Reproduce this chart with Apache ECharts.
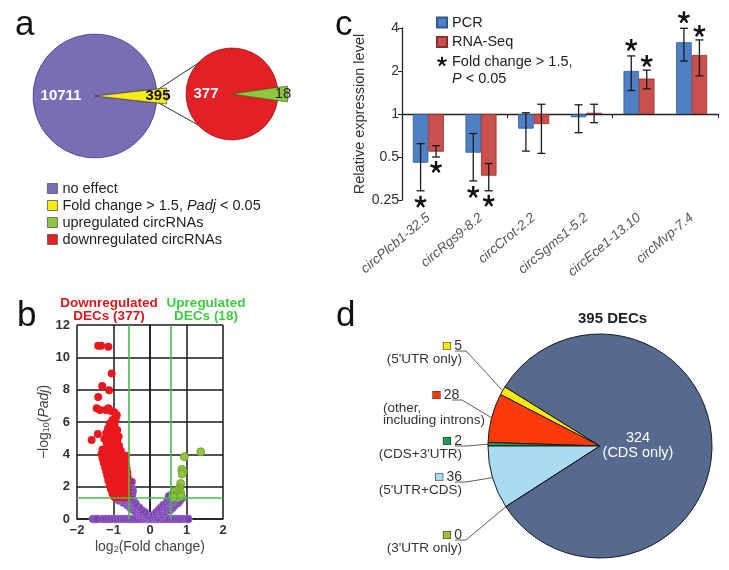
<!DOCTYPE html>
<html>
<head>
<meta charset="utf-8">
<script src="https://cdn.jsdelivr.net/npm/echarts@6/dist/echarts.min.js"></script>
<style>
  body { margin: 0; background: #fff; }
  #chart { width: 729px; height: 570px; }
</style>
</head>
<body>
<div id="chart"></div>
<script>
const FONT = "'Liberation Sans', Arial, Helvetica, sans-serif";

// ---- a: all circRNAs, then the DECs split up / down
const aNames = ['no effect', 'Fold change > 1.5, Padj < 0.05', 'upregulated circRNAs', 'downregulated circRNAs'];
const aColors = ['#7a6db6', '#f6ec12', '#8fc640', '#e41f26'];
const noEffect = 10711;
const decTotal = 395;
const decUp = 18;
const decDown = 377;

// ---- b: volcano points [log2 fold change, -log10 Padj]
const nsPoints = [
  [-1.56,0],[-1.5,0],[-1.44,0],[-1.3,0],[-1.22,0],[-1.14,0],[-1.06,0],[-0.98,0],[-0.9,0],[-0.82,0],
  [-0.74,0],[-0.66,0],[-0.58,0],[-0.5,0],[-0.42,0],[-0.34,0],[-0.26,0],[-0.18,0],[-0.1,0],[-0.03,0],
  [0.05,0],[0.13,0],[0.21,0],[0.29,0],[0.37,0],[0.45,0],[0.53,0],[0.61,0],[0.69,0],[0.77,0],
  [0.85,0],[0.93,0],[1.0,0],[1.05,0],
  [-0.2,0.1],[-0.12,0.08],[-0.05,0.12],[0.0,0.06],
  [-0.3,0.26],[-0.22,0.24],[-0.14,0.27],[-0.07,0.22],
  [-0.38,0.4],[-0.3,0.42],[-0.22,0.38],[-0.14,0.41],
  [-0.46,0.56],[-0.38,0.54],[-0.3,0.57],[-0.22,0.53],
  [-0.54,0.7],[-0.46,0.72],[-0.38,0.68],[-0.3,0.71],
  [-0.62,0.86],[-0.54,0.84],[-0.46,0.87],[-0.38,0.83],
  [-0.72,1.0],[-0.63,1.02],[-0.55,0.98],[-0.47,1.01],[-0.4,0.97],
  [-0.85,1.15],[-0.77,1.17],[-0.69,1.13],[-0.61,1.16],[-0.53,1.12],[-0.46,1.15],
  [-0.93,1.28],[-0.8,1.3],[-0.7,1.27],[-0.58,1.29],[-0.5,1.31],
  [-0.55,1.46],[-0.49,1.52],[-0.53,1.68],[-0.47,1.73],[-0.51,1.9],[-0.52,2.1],[-0.5,2.3],
  [0.05,0.08],[0.12,0.11],[0.2,0.07],
  [0.1,0.25],[0.18,0.23],[0.26,0.27],[0.33,0.24],
  [0.17,0.4],[0.25,0.42],[0.33,0.38],[0.41,0.41],
  [0.24,0.56],[0.32,0.54],[0.4,0.57],[0.48,0.53],[0.55,0.56],
  [0.3,0.7],[0.38,0.72],[0.46,0.68],[0.54,0.71],[0.62,0.69],
  [0.37,0.86],[0.45,0.84],[0.53,0.87],[0.61,0.83],[0.69,0.86],
  [0.45,1.0],[0.53,1.02],[0.61,0.98],[0.69,1.01],[0.77,0.99],
  [0.5,1.15],[0.58,1.17],[0.66,1.13],[0.74,1.16],[0.82,1.14],
  [0.55,1.28],[0.63,1.3],[0.71,1.27],[0.79,1.3],[0.87,1.28],
  [0.56,1.45],[0.52,1.4]
];
const downPoints = [
  [-1.42,10.72],[-1.34,10.72],[-1.14,10.66],[-1.05,9.0],[-1.31,8.22],[-1.12,7.96],[-1.42,7.54],
  [-1.46,6.85],[-1.37,6.74],[-1.21,6.74],[-1.14,6.85],[-1.07,6.68],[-0.98,6.6],[-0.91,6.43],
  [-1.03,6.12],[-0.94,6.2],[-1.43,5.26],[-1.6,4.89],
  [-1.1,5.9],[-0.97,5.85],[-1.15,5.6],[-1.03,5.55],[-0.9,5.5],[-1.2,5.3],[-1.08,5.25],[-0.95,5.2],
  [-0.86,5.1],[-1.25,4.95],[-1.12,4.9],[-1.0,4.92],[-0.9,4.85],[-1.18,4.65],[-1.05,4.6],[-0.94,4.62],[-0.85,4.55],
  [-1.3,4.3],[-1.2,4.32],[-1.1,4.28],[-1.0,4.3],[-0.9,4.25],[-0.8,4.22],
  [-1.33,4.02],[-1.24,4.05],[-1.14,4.0],[-1.05,4.03],[-0.95,3.98],[-0.86,4.0],[-0.77,3.95],[-0.66,3.92],
  [-1.3,3.75],[-1.2,3.78],[-1.11,3.72],[-1.02,3.76],[-0.93,3.7],[-0.84,3.74],[-0.75,3.68],[-0.68,3.66],
  [-1.27,3.48],[-1.18,3.5],[-1.09,3.45],[-1.0,3.5],[-0.91,3.44],[-0.82,3.48],[-0.74,3.42],[-0.66,3.4],
  [-1.23,3.2],[-1.14,3.24],[-1.05,3.18],[-0.97,3.22],[-0.88,3.16],[-0.8,3.2],[-0.72,3.14],[-0.64,3.12],
  [-1.2,2.94],[-1.11,2.96],[-1.03,2.9],[-0.95,2.95],[-0.86,2.88],[-0.78,2.92],[-0.7,2.86],[-0.62,2.84],
  [-1.17,2.66],[-1.08,2.68],[-1.0,2.62],[-0.92,2.67],[-0.84,2.6],[-0.76,2.64],[-0.68,2.58],[-0.61,2.56],
  [-1.14,2.38],[-1.06,2.4],[-0.98,2.34],[-0.9,2.39],[-0.82,2.32],[-0.74,2.36],[-0.67,2.3],[-0.6,2.28],
  [-1.1,2.1],[-1.02,2.12],[-0.94,2.06],[-0.86,2.1],[-0.78,2.04],[-0.71,2.08],[-0.64,2.02],
  [-1.07,1.84],[-0.99,1.86],[-0.91,1.8],[-0.83,1.84],[-0.76,1.78],[-0.69,1.82],[-0.62,1.76],
  [-1.03,1.58],[-0.95,1.6],[-0.87,1.55],[-0.8,1.58],[-0.73,1.52],[-0.66,1.56],[-0.61,1.5],
  [-0.98,1.38],[-0.9,1.36],[-0.82,1.4],[-0.75,1.35],[-0.68,1.38],[-0.62,1.34]
];
const upPoints = [
  [1.39,4.16],[0.94,3.85],[0.87,3.07],[0.91,2.93],[0.88,2.78],[0.84,2.2],[0.82,1.92],[0.8,1.79],
  [0.73,1.75],[0.66,1.69],[0.84,1.63],[0.78,1.5],[0.68,1.5],[0.62,1.42],[0.7,1.36],[0.76,1.33],
  [0.64,1.34],[0.86,1.4]
];
const fcCut = 0.585;   // log2(1.5)
const padjCut = 1.3;   // -log10(0.05)

// ---- c: qPCR vs RNA-seq, relative expression (log2 axis)
const genes = ['circPlcb1-32.5', 'circRgs9-8.2', 'circCrot-2.2', 'circSgms1-5.2', 'circEce1-13.10', 'circMvp-7.4'];
const pcrMean = [0.456, 0.536, 0.79, 0.95, 2.0, 3.18];
const pcrLow  = [0.29, 0.34, 0.55, 0.74, 1.46, 2.35];
const pcrHigh = [0.62, 0.73, 1.02, 1.16, 2.55, 3.98];
const seqMean = [0.545, 0.37, 0.85, 1.02, 1.77, 2.59];
const seqLow  = [0.50, 0.29, 0.53, 0.87, 1.5, 1.85];
const seqHigh = [0.60, 0.45, 1.17, 1.17, 2.03, 3.3];
const pcrSig = [1, 1, 0, 0, 1, 1];
const seqSig = [1, 1, 0, 0, 1, 1];
const levelTicks = [0.25, 0.5, 1, 2, 4];

// ---- d: where the 395 DECs sit
const regionNames = ["(5'UTR only)", '(other,\nincluding introns)', "(CDS+3'UTR)", "(5'UTR+CDS)", "(3'UTR only)", '(CDS only)'];
const regionCounts = [5, 28, 2, 36, 0, 324];
const regionColors = ['#fbe80c', '#fe3a0a', '#1f9a52', '#a9dbf3', '#a4bd36', '#566a8f'];

const starName = 'Fold change > 1.5, P < 0.05';
const starPath = 'path://M-1.91,-9.82 L1.91,-9.82 L2,-2.75 L8.75,-4.85 L9.93,-1.22 L3.23,1.05 L7.31,6.82 L4.23,9.06 L0,3.4 L-4.23,9.06 L-7.31,6.82 L-3.23,1.05 L-9.93,-1.22 L-8.75,-4.85 L-2,-2.75 Z';
const barW = 15.5;

function errorBars(shift) {
  return function (params, api) {
    const lo = api.coord([api.value(0), api.value(1)]);
    const hi = api.coord([api.value(0), api.value(2)]);
    const x = lo[0] + shift;
    const st = { stroke: '#1a1a1a', lineWidth: 1.3 };
    return {
      type: 'group',
      children: [
        { type: 'line', shape: { x1: x, y1: lo[1], x2: x, y2: hi[1] }, style: st },
        { type: 'line', shape: { x1: x - 4, y1: lo[1], x2: x + 4, y2: lo[1] }, style: st },
        { type: 'line', shape: { x1: x - 4, y1: hi[1], x2: x + 4, y2: hi[1] }, style: st }
      ]
    };
  };
}

function starData() {
  const out = [];
  genes.forEach(function (g, i) {
    if (pcrSig[i]) {
      const up = pcrMean[i] > 1;
      out.push({ value: [i, Math.log2(up ? pcrHigh[i] : pcrLow[i])], symbolOffset: [-barW / 2, up ? -11 : 11] });
    }
    if (seqSig[i]) {
      const up = seqMean[i] > 1;
      out.push({ value: [i, Math.log2(up ? seqHigh[i] : seqLow[i])], symbolOffset: [barW / 2, up ? -9 : 10] });
    }
  });
  return out;
}

const minus = v => (v < 0 ? '\u2212' + Math.abs(v) : String(v));
const allTotal = noEffect + decTotal;
const regionTotal = regionCounts.reduce((a, b) => a + b, 0);
const letter = { fontSize: 35, fontWeight: 'normal', color: '#111', fontFamily: FONT };

const chart = echarts.init(document.getElementById('chart'));
const option = {
  animation: false,
  backgroundColor: '#fff',
  textStyle: { fontFamily: FONT },
  title: [
    { text: 'a', left: 10, top: 3, textStyle: letter },
    { text: 'b', left: 12, top: 294, textStyle: letter },
    { text: 'c', left: 330, top: 3, textStyle: letter },
    { text: 'd', left: 331, top: 294, textStyle: letter },
    { text: 'Downregulated\nDECs (' + decDown + ')', left: 104, top: 292, textAlign: 'center',
      textStyle: { fontSize: 13.5, lineHeight: 13, fontWeight: 'bold', color: '#d9181c', fontFamily: FONT } },
    { text: 'Upregulated\nDECs (' + decUp + ')', left: 201, top: 292, textAlign: 'center',
      textStyle: { fontSize: 13.5, lineHeight: 13, fontWeight: 'bold', color: '#3fcb3f', fontFamily: FONT } },
    { text: regionTotal + ' DECs', left: 573, top: 306,
      textStyle: { fontSize: 15, fontWeight: 'bold', color: '#222', fontFamily: FONT } },
    { text: '{i|P} < 0.05', left: 452, top: 71, padding: 0,
      textStyle: { fontSize: 14.5, fontWeight: 'normal', color: '#222', fontFamily: FONT,
        rich: { i: { fontStyle: 'italic', fontSize: 14.5, color: '#222', fontFamily: FONT } } } }
  ],
  legend: [
    {
      data: aNames, orient: 'vertical', left: 47, top: 181, padding: 0, icon: 'rect',
      itemWidth: 10, itemHeight: 10, itemGap: 2, selectedMode: false,
      itemStyle: { borderColor: '#555', borderWidth: 0.8 },
      formatter: n => n.replace('Padj', '{i|Padj}'),
      textStyle: { fontSize: 14.5, color: '#222', fontFamily: FONT,
        rich: { i: { fontStyle: 'italic', fontSize: 14.5, color: '#222', fontFamily: FONT } } }
    },
    {
      data: ['PCR', 'RNA-Seq', { name: starName, icon: starPath, itemStyle: { color: '#111', opacity: 1 } }],
      orient: 'vertical', left: 436, top: 15, padding: 0, icon: 'rect',
      itemWidth: 10, itemHeight: 10, itemGap: 4.5, selectedMode: false,
      formatter: n => (n === starName ? 'Fold change > 1.5,' : n),
      textStyle: { fontSize: 14.5, color: '#222', fontFamily: FONT }
    }
  ],
  grid: [
    { left: 77, top: 325, width: 146, height: 194 },
    { left: 402, top: 28, width: 316, height: 172 }
  ],
  xAxis: [
    {
      gridIndex: 0, type: 'value', min: -2, max: 2, interval: 1,
      name: 'log{s|2}(Fold change)', nameLocation: 'middle', nameGap: 21,
      nameTextStyle: { fontSize: 14, color: '#444', fontFamily: FONT,
        rich: { s: { fontSize: 9, verticalAlign: 'bottom', color: '#444', fontFamily: FONT } } },
      axisLine: { lineStyle: { color: '#1a1a1a', width: 1.5 } },
      axisTick: { show: false },
      axisLabel: { formatter: minus, fontSize: 13, fontWeight: 'bold', color: '#333', margin: 5, fontFamily: FONT },
      splitLine: { show: true, lineStyle: { color: '#1a1a1a', width: 1.5 } }
    },
    {
      gridIndex: 1, type: 'category', data: genes, position: 'bottom',
      axisLine: { onZero: true, lineStyle: { color: '#222', width: 1.3 } },
      axisTick: { show: true, length: 4, lineStyle: { color: '#222' } },
      axisLabel: { show: false }
    },
    {
      gridIndex: 1, type: 'category', data: genes, position: 'bottom',
      axisLine: { show: false, onZero: false },
      axisTick: { show: false },
      axisLabel: { interval: 0, rotate: 40, fontStyle: 'italic', fontSize: 13.5, color: '#555', margin: 16, fontFamily: FONT }
    }
  ],
  yAxis: [
    {
      gridIndex: 0, type: 'value', min: 0, max: 12, interval: 2,
      name: '\u2212log{s|10}({i|Padj})', nameLocation: 'middle', nameGap: 26,
      nameTextStyle: { fontSize: 14, color: '#444', fontFamily: FONT,
        rich: { s: { fontSize: 9, verticalAlign: 'bottom', color: '#444', fontFamily: FONT },
                i: { fontSize: 14, fontStyle: 'italic', color: '#444', fontFamily: FONT } } },
      axisLine: { show: true, lineStyle: { color: '#1a1a1a', width: 1.5 } },
      axisTick: { show: false },
      axisLabel: { fontSize: 13, fontWeight: 'bold', color: '#333', margin: 7, fontFamily: FONT },
      splitLine: { show: true, lineStyle: { color: '#1a1a1a', width: 1.5 } }
    },
    {
      gridIndex: 1, type: 'value',
      min: Math.log2(levelTicks[0]), max: Math.log2(levelTicks[levelTicks.length - 1]), interval: 1,
      name: 'Relative expression level', nameLocation: 'middle', nameGap: 26,
      nameTextStyle: { fontSize: 14.5, color: '#333', fontFamily: FONT },
      axisLine: { show: true, lineStyle: { color: '#222', width: 1.3 } },
      axisTick: { show: true, length: 4, lineStyle: { color: '#222' } },
      axisLabel: { formatter: v => String(Math.pow(2, v)), fontSize: 14, color: '#333', margin: 3, fontFamily: FONT },
      splitLine: { show: false }
    }
  ],
  graphic: [
    { type: 'line', shape: { x1: 157, y1: 90, x2: 200, y2: 62 }, style: { stroke: '#333', lineWidth: 1 } },
    { type: 'line', shape: { x1: 157, y1: 102, x2: 200, y2: 126 }, style: { stroke: '#333', lineWidth: 1 } }
  ],
  series: [
    // a: big pie
    {
      type: 'pie', center: [95, 96], radius: 62, startAngle: decTotal / allTotal * 180,
      clockwise: true, silent: true, avoidLabelOverlap: false, labelLine: { show: false },
      itemStyle: { borderColor: '#4a3c7c', borderWidth: 0.8 },
      data: [
        { name: aNames[1], value: decTotal, itemStyle: { color: aColors[1] }, label: { show: false } },
        { name: aNames[0], value: noEffect, itemStyle: { color: aColors[0] },
          label: { show: true, position: 'inside', formatter: '{c}', color: '#fff', fontWeight: 'bold', fontSize: 15, fontFamily: FONT } }
      ]
    },
    {
      type: 'pie', center: [95, 96], radius: 72, startAngle: decTotal / allTotal * 180,
      clockwise: true, silent: true, avoidLabelOverlap: false, labelLine: { show: false },
      labelLayout: { dx: 24 },
      data: [
        { name: aNames[1], value: decTotal, itemStyle: { color: aColors[1], borderColor: '#444', borderWidth: 0.7 },
          label: { show: true, position: 'inside', formatter: '{c}', color: '#111', fontWeight: 'bold', fontSize: 15, fontFamily: FONT } },
        { name: aNames[0], value: noEffect, itemStyle: { opacity: 0 }, label: { show: false } }
      ]
    },
    // a: DEC pie
    {
      type: 'pie', center: [232, 94], radius: 46, startAngle: decUp / decTotal * 180,
      clockwise: true, silent: true, avoidLabelOverlap: false, labelLine: { show: false },
      itemStyle: { borderColor: '#8a1a1a', borderWidth: 0.8 },
      data: [
        { name: aNames[2], value: decUp, itemStyle: { color: aColors[2] }, label: { show: false } },
        { name: aNames[3], value: decDown, itemStyle: { color: aColors[3] },
          label: { show: true, position: 'inside', formatter: '{c}', color: '#fff', fontWeight: 'bold', fontSize: 15, fontFamily: FONT } }
      ]
    },
    {
      type: 'pie', center: [232, 94], radius: 56, startAngle: decUp / decTotal * 180,
      clockwise: true, silent: true, avoidLabelOverlap: false, labelLine: { show: false },
      labelLayout: { dx: 20 },
      data: [
        { name: aNames[2], value: decUp, itemStyle: { color: aColors[2], borderColor: '#4d6b1c', borderWidth: 0.7 },
          label: { show: true, position: 'inside', formatter: '{c}', color: '#222', fontSize: 15, fontFamily: FONT } },
        { name: aNames[3], value: decDown, itemStyle: { opacity: 0 }, label: { show: false } }
      ]
    },
    // b: volcano
    {
      type: 'scatter', xAxisIndex: 0, yAxisIndex: 0, data: nsPoints, symbolSize: 8, silent: true,
      itemStyle: { color: '#7b3fb3', borderColor: '#a283cc', borderWidth: 0.6, opacity: 1 }
    },
    {
      type: 'scatter', xAxisIndex: 0, yAxisIndex: 0, data: downPoints, symbolSize: 8, silent: true,
      itemStyle: { color: '#e8191c', opacity: 1 }
    },
    {
      type: 'scatter', xAxisIndex: 0, yAxisIndex: 0, data: upPoints, symbolSize: 8, silent: true,
      itemStyle: { color: '#8fc640', borderColor: '#6b9a2c', borderWidth: 0.8, opacity: 1 },
      markLine: {
        silent: true, symbol: 'none', label: { show: false },
        lineStyle: { color: '#4cbb4c', width: 1.6, type: 'solid' },
        data: [{ xAxis: -fcCut }, { xAxis: fcCut }, { yAxis: padjCut }]
      }
    },
    // c: bars
    {
      name: 'PCR', type: 'bar', xAxisIndex: 1, yAxisIndex: 1, barWidth: barW, barGap: '0%',
      data: pcrMean.map(Math.log2),
      itemStyle: { color: '#4f80c3', borderColor: '#2e5a92', borderWidth: 0.8 }
    },
    {
      name: 'RNA-Seq', type: 'bar', xAxisIndex: 1, yAxisIndex: 1, barWidth: barW, barGap: '0%',
      data: seqMean.map(Math.log2),
      itemStyle: { color: '#c9504c', borderColor: '#8c2e2b', borderWidth: 0.8 }
    },
    {
      type: 'custom', xAxisIndex: 1, yAxisIndex: 1, silent: true, z: 5,
      renderItem: errorBars(-barW / 2),
      data: genes.map((g, i) => [i, Math.log2(pcrLow[i]), Math.log2(pcrHigh[i])])
    },
    {
      type: 'custom', xAxisIndex: 1, yAxisIndex: 1, silent: true, z: 5,
      renderItem: errorBars(barW / 2),
      data: genes.map((g, i) => [i, Math.log2(seqLow[i]), Math.log2(seqHigh[i])])
    },
    {
      name: starName, type: 'scatter', xAxisIndex: 1, yAxisIndex: 1, silent: true, z: 6,
      symbol: starPath, symbolSize: 12, itemStyle: { color: '#111', opacity: 1 },
      data: starData()
    },
    // d: region pie
    {
      type: 'pie', center: [600, 446], radius: 112,
      startAngle: 180 - (regionCounts[0] + regionCounts[1] + regionCounts[2]) / regionTotal * 360,
      clockwise: false, silent: true, avoidLabelOverlap: false,
      itemStyle: { borderColor: '#1a1a1a', borderWidth: 1 },
      labelLine: { show: true, length: 10, length2: 10, lineStyle: { color: '#333', width: 0.8 } },
      label: {
        show: true, position: 'outside', color: '#333', fontSize: 13.5, lineHeight: 12.5, fontFamily: FONT,
        formatter: function (p) {
          const i = p.dataIndex;
          if (i === 1) {
            return '{sp|}{sq1|} {n|' + p.value + '}\n{d|(other,}\n{d|including introns)}';
          }
          return '{sq' + i + '|} {n|' + p.value + '}\n{d|' + regionNames[i] + '}';
        },
        rich: Object.assign({
          sp: { width: 50 },
          n: { fontSize: 14, color: '#333', fontFamily: FONT, lineHeight: 14 },
          d: { fontSize: 13.5, color: '#333', fontFamily: FONT, lineHeight: 12.5 }
        }, ...regionColors.map((c, i) => ({ ['sq' + i]: { width: 7, height: 7, backgroundColor: c, borderColor: '#333', borderWidth: 0.6 } })))
      },
      labelLayout: function (p) {
        const i = p.dataIndex;
        if (i === 5) return { x: 638, y: 445, align: 'center', verticalAlign: 'middle' };
        const tops = [339, 388, 434, 470, 528];
        const t = tops[i];
        const start = p.labelLinePoints ? p.labelLinePoints[0] : [0, 0];
        if (i === 1) {
          return { x: 383, y: t, align: 'left', verticalAlign: 'top',
            labelLinePoints: [start, [462, t + 12], [452, t + 12]] };
        }
        return { x: 462, y: t, align: 'right', verticalAlign: 'top',
          labelLinePoints: [start, [466, t + 12], [455, t + 12]] };
      },
      data: regionCounts.map((v, i) => {
        const item = { name: regionNames[i], value: v, itemStyle: { color: regionColors[i] } };
        if (i === 5) {
          item.label = { position: 'inside', color: '#fff', fontSize: 14.5, lineHeight: 15,
            formatter: '{c}\n' + regionNames[i] };
          item.labelLine = { show: false };
        }
        return item;
      })
    }
  ]
};
chart.setOption(option);
</script>
</body>
</html>
